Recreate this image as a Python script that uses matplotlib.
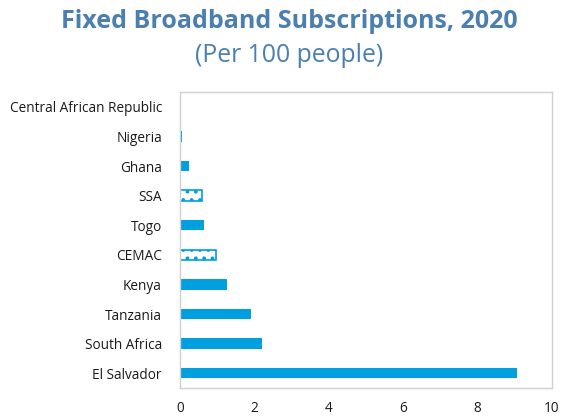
import matplotlib
matplotlib.use("Agg")
import matplotlib.pyplot as plt

plt.rcParams['font.family'] = ['Open Sans', 'DejaVu Sans']
plt.rcParams['hatch.linewidth'] = 1.5

categories = ["Central African Republic", "Nigeria", "Ghana", "SSA", "Togo",
              "CEMAC", "Kenya", "Tanzania", "South Africa", "El Salvador"]
values = [0.02, 0.05, 0.24, 0.60, 0.64, 0.96, 1.26, 1.90, 2.20, 9.05]
hatched = ["SSA", "CEMAC"]
xticks = [0, 2, 4, 6, 8, 10]

blue = "#009FDF"
title_color = "#4A7FB0"

fig = plt.figure(figsize=(5.70, 4.19), dpi=100)
ax = fig.add_axes([180/570, 1 - 388/419, (552 - 180)/570, (388 - 92)/419])

ypos = list(range(len(categories)))
for y, c, v in zip(ypos, categories, values):
    if c in hatched:
        ax.barh(y, v, height=0.35, color="white", edgecolor=blue, hatch="..",
                linewidth=1.2)
    else:
        ax.barh(y, v, height=0.35, color=blue, linewidth=0)

ax.set_yticks(ypos)
ax.set_yticklabels(categories, fontsize=9.8, color="#1a1a1a")
ax.set_ylim(len(categories) - 0.5, -0.5)
ax.set_xlim(0, 10)
ax.set_xticks(xticks)
ax.set_xticklabels([str(t) for t in xticks], fontsize=9.8, color="#1a1a1a")
ax.tick_params(axis='both', length=0)
ax.tick_params(axis='x', pad=9)
ax.tick_params(axis='y', pad=13)
for s in ax.spines.values():
    s.set_color("#D0D0D0")
    s.set_linewidth(1.0)

fig.text(0.507, 1 - 21/419, "Fixed Broadband Subscriptions, 2020", ha="center",
         va="center", fontsize=18, fontweight="bold", color=title_color)
fig.text(0.507, 1 - 56/419, "(Per 100 people)", ha="center", va="center",
         fontsize=17.8, color=title_color)

fig.savefig("out.png", dpi=100)
